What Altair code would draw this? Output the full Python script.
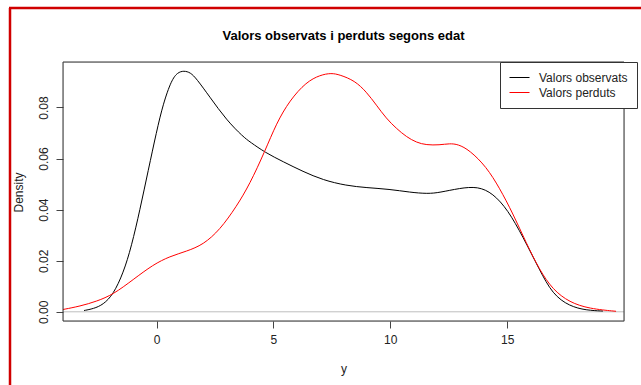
import altair as alt
import pandas as pd

# Density curves
obs_x = [-3.1, -2.7, -2.28, -1.85, -1.42, -1.07, -0.71, -0.35, 0.0, 0.29, 0.64, 0.9, 1.17, 1.45,
         1.71, 2.28, 3.0, 3.71, 4.0, 4.66, 5.41, 6.27, 7.12, 8.12, 8.98, 9.97, 10.83, 11.61,
         12.11, 12.97, 13.75, 14.39, 15.03, 15.67, 16.38, 16.95, 17.67, 18.38, 19.1]
obs_y = [0.0005, 0.0012, 0.0028, 0.0068, 0.0152, 0.0256, 0.0399, 0.0555, 0.0705, 0.0816, 0.0907,
         0.0937, 0.0944, 0.0937, 0.0913, 0.0841, 0.0750, 0.0685, 0.0665, 0.0623, 0.0588, 0.0549,
         0.0516, 0.0494, 0.0486, 0.0480, 0.0468, 0.0462, 0.0467, 0.0484, 0.0491, 0.0464, 0.0399,
         0.0295, 0.0165, 0.0068, 0.0022, 0.0006, 0.0003]

lost_x = [-4.0, -3.27, -2.56, -1.85, -1.0, -0.14, 0.57, 1.29, 2.0, 2.71, 3.42, 3.99, 4.63, 5.13,
          5.70, 6.41, 7.0, 7.48, 7.84, 8.48, 8.98, 9.41, 9.83, 10.26, 10.69, 11.12, 11.54, 12.11,
          12.54, 12.9, 13.39, 14.11, 14.68, 15.24, 15.82, 16.38, 16.95, 17.67, 18.52, 19.66]
lost_y = [0.0009, 0.0022, 0.0041, 0.0068, 0.0126, 0.0185, 0.0217, 0.0237, 0.0263, 0.0321, 0.0412,
          0.0500, 0.0627, 0.0738, 0.0828, 0.0900, 0.0927, 0.0935, 0.0928, 0.0905, 0.0861, 0.0809,
          0.0757, 0.0718, 0.0685, 0.0663, 0.0653, 0.0653, 0.0659, 0.0656, 0.0633, 0.0568, 0.0484,
          0.0386, 0.0269, 0.0165, 0.0087, 0.0037, 0.0012, 0.0002]

series_names = ["Valors observats", "Valors perduts"]
series_colors = ["#000000", "#ff0000"]
x_ticks = [0, 5, 10, 15]
y_ticks = [0.0, 0.02, 0.04, 0.06, 0.08]
title_text = "Valors observats i perduts segons edat"

df = pd.concat([
    pd.DataFrame({"y": obs_x, "Density": obs_y, "serie": series_names[0], "ord": range(len(obs_x))}),
    pd.DataFrame({"y": lost_x, "Density": lost_y, "serie": series_names[1], "ord": range(len(lost_x))}),
])

FONT = "Liberation Sans"
W, H = 561, 259

xscale = alt.Scale(domain=[-4, 20], nice=False, zero=False)
yscale = alt.Scale(domain=[-0.0036, 0.0978], nice=False, zero=False)

lines = alt.Chart(df).mark_line(strokeWidth=1, clip=True, interpolate="basis").encode(
    x=alt.X("y:Q", scale=xscale,
            axis=alt.Axis(values=x_ticks, title="y", domain=False, grid=False, tickSize=7,
                          tickColor="#444", labelPadding=6, labelFontSize=12, labelFont=FONT,
                          labelColor="#222", titleFont=FONT, titleFontSize=12,
                          titleFontWeight="normal", titleColor="#222", titleY=47,
                          titleBaseline="middle")),
    y=alt.Y("Density:Q", scale=yscale,
            axis=alt.Axis(values=y_ticks, format=".2f", title="Density", domain=False, grid=False,
                          tickSize=7, tickColor="#444", labelAngle=270, labelAlign="center",
                          labelBaseline="bottom", labelPadding=6, labelFontSize=12,
                          labelFont=FONT, labelColor="#222", titleFont=FONT, titleFontSize=12,
                          titleFontWeight="normal", titleColor="#222", titleAngle=270,
                          titleX=-45, titleY=130, titleAlign="center",
                          titleBaseline="middle")),
    color=alt.Color("serie:N", scale=alt.Scale(domain=series_names, range=series_colors),
                    legend=alt.Legend(orient="none", legendX=437, legendY=0, title=None,
                                      symbolType="stroke", symbolSize=400,
                                      symbolStrokeWidth=1, labelFontSize=12, labelFont=FONT,
                                      labelColor="#222", strokeColor="#333", fillColor="white",
                                      padding=9, clipHeight=13, labelOffset=9)),
    order="ord:Q",
)

zero_line = alt.Chart(pd.DataFrame({"z": [0.0]})).mark_rule(color="#bebebe", strokeWidth=1).encode(
    y=alt.Y("z:Q", scale=yscale)
)

box = alt.Chart(pd.DataFrame({"a": [0]})).mark_rect(fill=None, stroke="#333", strokeWidth=1).encode(
    x=alt.value(0), x2=alt.value(W), y=alt.value(0), y2=alt.value(H)
)

title = alt.Chart(pd.DataFrame({"t": [title_text]})).mark_text(
    font=FONT, fontSize=13, fontWeight="bold", color="#000", align="center", baseline="middle"
).encode(text="t:N", x=alt.value(W / 2), y=alt.value(-26))

frame_left = alt.Chart(pd.DataFrame({"a": [0]})).mark_rule(color="#d00000", strokeWidth=2.5, clip=False).encode(
    x=alt.value(-53), y=alt.value(-54), y2=alt.value(H + 64)
)
frame_top = alt.Chart(pd.DataFrame({"a": [0]})).mark_rule(color="#d00000", strokeWidth=2.5, clip=False).encode(
    x=alt.value(-54), x2=alt.value(W + 17), y=alt.value(-54)
)

chart = alt.layer(zero_line, lines, box, title, frame_left, frame_top).properties(
    width=W, height=H,
    autosize=alt.AutoSizeParams(type="none"),
    padding={"left": 63, "top": 62, "right": 17, "bottom": 64},
).configure_view(stroke="#333", strokeWidth=1).configure(background="white")

chart.save("out.html", embed_options={"renderer": "svg", "actions": False})
